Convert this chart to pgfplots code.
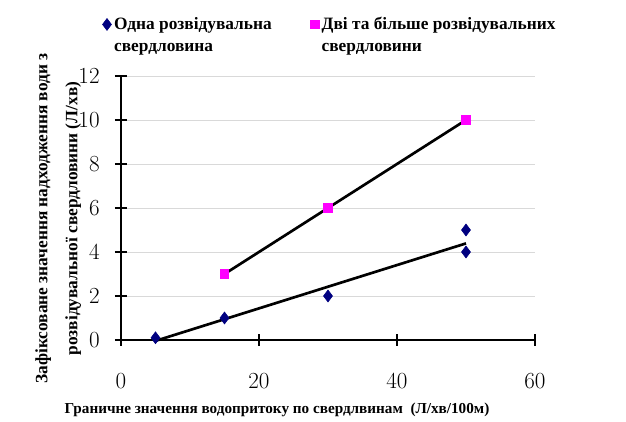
\documentclass[border=0pt]{standalone}
\usepackage{pgfplots}
\pgfplotsset{compat=1.18}
\usepackage{fontspec}
\setmainfont{Liberation Serif}
\definecolor{navy}{RGB}{0,0,128}
\definecolor{mag}{RGB}{255,0,255}
\definecolor{gridc}{RGB}{217,217,217}
\begin{document}
\begin{tikzpicture}
\begin{axis}[
  scale only axis,
  width=310.5pt, height=198pt,
  at={(0,0)}, anchor=south west,
  xmin=0, xmax=60, ymin=0, ymax=12,
  xtick={0,20,40,60}, ytick={0,2,4,6,8,10,12},
  axis lines*=left,
  axis line style={black, line width=0.8pt},
  tick style={black, line width=0.8pt},
  tick align=center,
  major tick length=9pt,
  ymajorgrids, grid style={gridc, line width=0.6pt},
  tick label style={font=\fontsize{16.5}{16.5}\selectfont, text=black},
  xticklabel style={yshift=-17pt},
  yticklabel style={xshift=-8pt},
  xlabel={Граничне значення водопритоку по свердлвинам~~(Л/хв/100м)},
  xlabel style={font=\bfseries\fontsize{11.4}{13}\selectfont, at={(axis description cs:0.377,0)}, anchor=north, yshift=-44pt},
  ylabel={Зафіксоване значення надходження води з\\розвідувальної свердловини (Л/хв)},
  ylabel style={font=\bfseries\fontsize{13}{22.5}\selectfont, align=center, at={(axis description cs:-0.085,0.46)}, anchor=south},
  legend columns=2,
  legend cell align=left,
  legend style={draw=none, fill=none, at={(axis description cs:-0.055,1.245)}, anchor=north west,
    font=\bfseries\fontsize{13}{16.5}\selectfont, cells={align=left},
    /tikz/every even column/.append style={column sep=27pt}},
  legend image post style={yshift=8pt},
  clip=false,
]
\addplot[only marks, mark=diamond*, mark size=4.5pt, color=navy] coordinates {(5,0.1) (15,1) (30,2) (50,5) (50,4)};
\addlegendentry{Одна розвідувальна\\свердловина}
\addplot[only marks, mark=square*, mark size=3.2pt, color=mag] coordinates {(15,3) (30,6) (50,10)};
\addlegendentry{Дві та більше розвідувальних\\свердловини}
\addplot[black, line width=2pt, forget plot] coordinates {(5,-0.04) (50,4.39)};
\addplot[black, line width=2pt, forget plot] coordinates {(15,3.0) (50,10.0)};
\end{axis}
\path[use as bounding box] (-90.75pt,-59.25pt) rectangle (378.75pt,255pt);
\end{tikzpicture}
\end{document}
